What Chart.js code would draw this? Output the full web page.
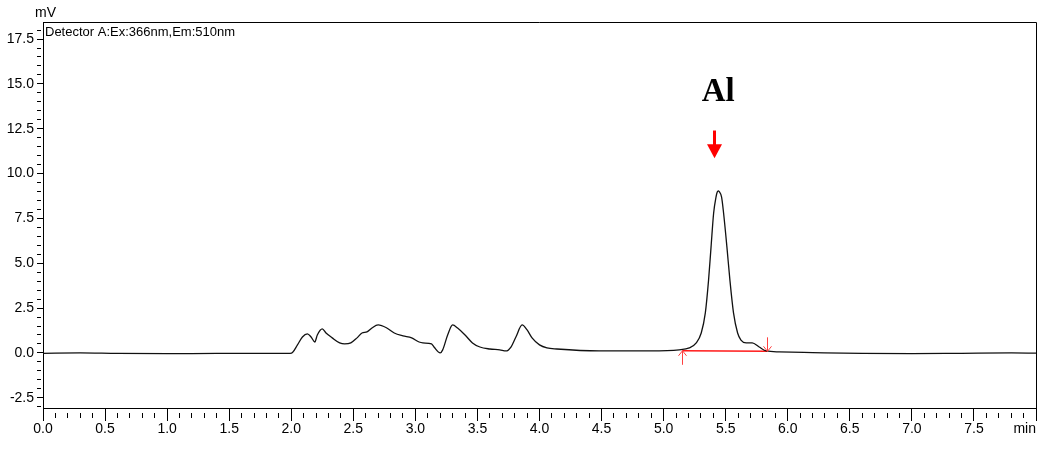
<!DOCTYPE html>
<html>
<head>
<meta charset="utf-8">
<script src="https://cdn.jsdelivr.net/npm/chart.js@4.4.1/dist/chart.umd.min.js"></script>
<style>
  html, body { margin: 0; padding: 0; background: #fff; }
  #wrap { width: 1044px; height: 449px; }
</style>
</head>
<body>
<div id="wrap"><canvas id="chromChart" width="1044" height="449"></canvas></div>
<script>
// retention time (min) and detector signal (mV)
const times = [0.00, 0.30, 0.60, 1.00, 1.40, 1.80, 1.99, 2.01, 2.05, 2.09, 2.13, 2.16, 2.19, 2.21, 2.25, 2.28, 2.33,
  2.39, 2.43, 2.48, 2.53, 2.57, 2.61, 2.65, 2.70, 2.77, 2.83, 2.90, 2.97, 3.03, 3.06, 3.13, 3.15, 3.20, 3.22, 3.26, 3.30,
  3.34, 3.40, 3.46, 3.52, 3.60, 3.68, 3.73, 3.77, 3.81, 3.86, 3.90, 3.94, 4.00, 4.06, 4.14, 4.48, 4.89, 5.125, 5.207,
  5.263, 5.303, 5.336, 5.362, 5.382, 5.403, 5.422, 5.432, 5.440, 5.448, 5.467, 5.483, 5.510, 5.534, 5.563, 5.596, 5.623,
  5.665, 5.714, 5.770, 5.827, 5.93, 6.20, 6.60, 7.00, 7.40, 7.80, 8.00];
const signal = [-0.02, 0.00, -0.03, -0.04, -0.03, -0.03, -0.02, 0.02, 0.45, 0.89, 1.06, 0.89, 0.61, 1.00, 1.34, 1.11, 0.84,
  0.56, 0.50, 0.56, 0.84, 1.11, 1.17, 1.39, 1.56, 1.39, 1.11, 0.95, 0.84, 0.61, 0.56, 0.50, 0.33, 0.00, 0.17, 1.00, 1.56,
  1.39, 1.00, 0.56, 0.33, 0.22, 0.17, 0.11, 0.33, 0.89, 1.56, 1.28, 0.84, 0.45, 0.28, 0.22, 0.11, 0.11, 0.17, 0.28,
  0.56, 1.11, 2.23, 4.06, 5.90, 7.80, 8.69, 8.97, 9.04, 8.99, 8.69, 7.80, 5.90, 4.06, 2.23, 1.11, 0.72,
  0.56, 0.56, 0.33, 0.11, 0.06, 0.02, -0.03, -0.04, -0.02, 0.00, -0.01];

// integration baseline of the Al peak: [start, end]
const baseTimes = [5.15, 5.835];
const baseLevels = [0.12, 0.09];

// peak label and the red arrow over it
const peakName = "Al";
const peakTime = 5.41;
const arrowFrom = 12.4;
const arrowTo = 10.85;
const labelAt = [5.44, 14.5];

const detectorText = "Detector A:Ex:366nm,Em:510nm";
const yUnit = "mV";
const xUnit = "min";

const narrow = '"Liberation Sans Narrow", "Liberation Sans", Arial, sans-serif';

const isMajor = (v, step) => Math.abs(v / step - Math.round(v / step)) < 1e-6;

const extras = {
  id: 'extras',
  afterDatasetsDraw(chart) {
    const { ctx, scales: { x, y } } = chart;
    ctx.save();
    // little integration markers
    ctx.strokeStyle = '#ff4040';
    ctx.lineWidth = 1;
    const sx = Math.round(x.getPixelForValue(baseTimes[0])) + 0.5;
    const sy = y.getPixelForValue(baseLevels[0]);
    ctx.beginPath();
    ctx.moveTo(sx, sy + 14); ctx.lineTo(sx, sy);
    ctx.moveTo(sx - 4, sy + 5); ctx.lineTo(sx, sy); ctx.lineTo(sx + 4, sy + 5);
    ctx.stroke();
    const ex = Math.round(x.getPixelForValue(baseTimes[1])) + 0.5;
    const ey = y.getPixelForValue(baseLevels[1]);
    ctx.beginPath();
    ctx.moveTo(ex, ey - 14); ctx.lineTo(ex, ey);
    ctx.moveTo(ex - 4, ey - 5); ctx.lineTo(ex, ey); ctx.lineTo(ex + 4, ey - 5);
    ctx.stroke();

    // big red arrow
    const ax = x.getPixelForValue(peakTime);
    const a1 = y.getPixelForValue(arrowFrom);
    const a2 = y.getPixelForValue(arrowTo);
    ctx.strokeStyle = '#ff0000';
    ctx.fillStyle = '#ff0000';
    ctx.lineWidth = 3;
    ctx.beginPath();
    ctx.moveTo(ax, a1); ctx.lineTo(ax, a2 - 12);
    ctx.stroke();
    ctx.beginPath();
    ctx.moveTo(ax - 7.5, a2 - 14); ctx.lineTo(ax + 7.5, a2 - 14); ctx.lineTo(ax, a2);
    ctx.closePath();
    ctx.fill();

    ctx.fillStyle = '#000';
    ctx.font = 'bold 33px "Liberation Serif", "Times New Roman", serif';
    ctx.textAlign = 'center';
    ctx.textBaseline = 'middle';
    ctx.fillText(peakName, x.getPixelForValue(labelAt[0]), y.getPixelForValue(labelAt[1]));
    ctx.restore();
  },
  afterDraw(chart) {
    const { ctx, chartArea: a } = chart;
    ctx.save();
    ctx.strokeStyle = '#000';
    ctx.lineWidth = 1;
    ctx.beginPath();
    ctx.moveTo(Math.round(a.left), Math.round(a.top) + 0.5);
    ctx.lineTo(Math.round(a.right) + 0.5, Math.round(a.top) + 0.5);
    ctx.lineTo(Math.round(a.right) + 0.5, Math.round(a.bottom));
    ctx.stroke();
    ctx.fillStyle = '#000';
    ctx.font = '13px ' + narrow;
    ctx.textAlign = 'left';
    ctx.textBaseline = 'middle';
    ctx.fillText(detectorText, a.left + 2, a.top + 10);
    ctx.font = '14px ' + narrow;
    ctx.fillText(yUnit, a.left - 8, a.top - 9);
    ctx.restore();
  }
};

new Chart(document.getElementById('chromChart'), {
  type: 'line',
  data: {
    datasets: [{
      data: times.map((t, i) => ({ x: t, y: signal[i] })),
      borderColor: '#111',
      borderWidth: 1.3,
      pointRadius: 0,
      cubicInterpolationMode: 'monotone'
    }, {
      data: baseTimes.map((t, i) => ({ x: t, y: baseLevels[i] })),
      borderColor: '#ff1a1a',
      borderWidth: 1.5,
      pointRadius: 0
    }]
  },
  options: {
    responsive: false,
    animation: false,
    devicePixelRatio: 1,
    layout: { padding: { top: 22, right: 8, left: 0, bottom: 0 } },
    plugins: { legend: { display: false }, tooltip: { enabled: false } },
    scales: {
      x: {
        type: 'linear',
        min: 0,
        max: 8,
        afterFit: s => { s.height = 41; },
        border: { color: '#000', width: 1 },
        grid: {
          drawOnChartArea: false,
          tickLength: 13,
          tickColor: '#000',
          tickBorderDash: c => isMajor(c.tick.value, 0.5) ? [] : [0, 4, 5, 100]
        },
        ticks: {
          stepSize: 0.1,
          autoSkip: false,
          maxRotation: 0,
          padding: 0,
          color: '#000',
          font: { family: narrow, size: 14 },
          callback: v => (isMajor(v, 0.5) && v < 7.9) ? v.toFixed(1) : ''
        },
        title: {
          display: true,
          text: xUnit,
          align: 'end',
          color: '#000',
          font: { family: narrow, size: 14 },
          padding: { top: 0, bottom: 11 }
        }
      },
      y: {
        min: -3.07,
        max: 18.45,
        afterFit: s => { s.width = 43; },
        border: { color: '#000', width: 1 },
        grid: {
          drawOnChartArea: false,
          tickLength: 6,
          tickColor: '#000',
          tickBorderDash: c => isMajor(c.tick.value, 2.5) ? [] : [4, 100]
        },
        ticks: {
          stepSize: 0.5,
          includeBounds: false,
          autoSkip: false,
          padding: 3,
          color: '#000',
          font: { family: narrow, size: 14 },
          callback: v => isMajor(v, 2.5) ? v.toFixed(1) : ''
        }
      }
    }
  },
  plugins: [extras]
});
</script>
</body>
</html>
